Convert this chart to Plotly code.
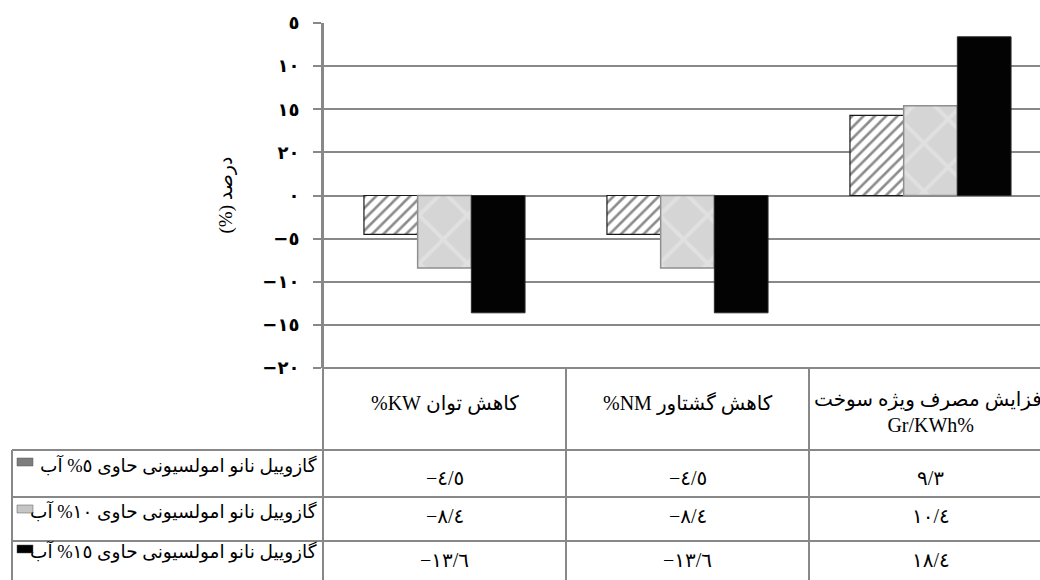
import plotly.graph_objects as go

# ---- data -------------------------------------------------------------
categories = [
    ["کاهش توان KW%"],
    ["کاهش گشتاور NM%"],
    ["افزایش مصرف ویژه سوخت", "Gr/KWh%"],
]
series_names = [
    "گازوییل نانو امولسیونی حاوی ٥% آب",
    "گازوییل نانو امولسیونی حاوی ١٠% آب",
    "گازوییل نانو امولسیونی حاوی ١٥% آب",
]
water_5 = [-4.5, -4.5, 9.3]
water_10 = [-8.4, -8.4, 10.4]
water_15 = [-13.6, -13.6, 18.4]

y_tickvals = [20, 15, 10, 5, 0, -5, -10, -15, -20]
y_ticktext = ["٥", "١٠", "١٥", "٢٠", "٠", "−٥", "−١٠", "−١٥", "−٢٠"]
y_title = "درصد (%)"

# ---- helpers ----------------------------------------------------------
W, H = 1040, 580
ML, MR, MT, MB = 323, 0, 23, 212
PW, PH = W - ML - MR, H - MT - MB
CAT_PX = 243  # width of one category column in pixels

AR_DIGITS = str.maketrans("0123456789", "٠١٢٣٤٥٦٧٨٩")


def rtl(s):
    """Wrap text containing Arabic-script letters in a right-to-left embedding."""
    if any("\u0600" <= ch <= "\u06ff" and not ("\u0660" <= ch <= "\u0669") for ch in s):
        return "\u202b" + s + "\u202c"
    return s


def ltr(s):
    return "\u200e\u202a" + s + "\u202c"


def fa_num(v):
    s = f"{abs(v):.1f}".translate(AR_DIGITS).replace(".", "/")
    return ltr(("−" + s) if v < 0 else s)


def px_x(px):
    return (px - ML) / PW


def px_y(py):
    return (H - MB - py) / PH


FONT = "Liberation Serif, DejaVu Sans, serif"
GRID = "#888888"

x_idx = list(range(len(categories)))
series = [water_5, water_10, water_15]

fig = go.Figure()

# hatched bars
fig.add_trace(go.Bar(
    x=x_idx, y=water_5, name=series_names[0],
    marker=dict(
        color="white",
        line=dict(color="#1a1a1a", width=1.2),
        pattern=dict(shape="/", fgcolor="#1a1a1a", bgcolor="white", size=8, solidity=0.33),
    ),
))
# light grey textured bars
fig.add_trace(go.Bar(
    x=x_idx, y=water_10, name=series_names[1],
    marker=dict(
        color="#d8d8d8",
        line=dict(color="#8f8f8f", width=1.5),
        pattern=dict(shape="x", fgcolor="#ececec", bgcolor="#d5d5d5", size=34, solidity=0.22),
    ),
))
# black bars
fig.add_trace(go.Bar(
    x=x_idx, y=water_15, name=series_names[2],
    marker=dict(color="#030303", line=dict(color="#2a2a2a", width=1)),
))

shapes = []
line_style = dict(color=GRID, width=2)

# table frame: header top, row separators, verticals
shapes.append(dict(type="line", xref="paper", yref="paper", x0=0, x1=1.02,
                   y0=px_y(368), y1=px_y(368), line=line_style))
for py in (450, 497, 541):
    shapes.append(dict(type="line", xref="paper", yref="paper", x0=px_x(12), x1=1.02,
                       y0=px_y(py), y1=px_y(py), line=line_style))
shapes.append(dict(type="line", xref="paper", yref="paper", x0=0, x1=0,
                   y0=1, y1=px_y(590), line=line_style))
shapes.append(dict(type="line", xref="paper", yref="paper", x0=px_x(12), x1=px_x(12),
                   y0=px_y(450), y1=px_y(590), line=line_style))
for i in range(len(categories) - 1):
    shapes.append(dict(type="line", xref="x", yref="paper", x0=i + 0.5, x1=i + 0.5,
                       y0=px_y(368), y1=px_y(590), line=line_style))

# legend keys inside the table rows
key_colors = ["#7d7d7d", "#c6c6c6", "#000000"]
key_rows = [458, 505, 545]
for col, top in zip(key_colors, key_rows):
    shapes.append(dict(type="rect", xref="paper", yref="paper",
                       x0=px_x(17), x1=px_x(33), y0=px_y(top), y1=px_y(top + 8),
                       fillcolor=col, line=dict(color="#555555", width=0.5)))

annotations = []
# header cells
for i, lines in enumerate(categories):
    center = 403 if len(lines) == 1 else 412
    annotations.append(dict(
        x=i, xref="x", y=px_y(center), yref="paper",
        text="<br>".join(rtl(s) for s in lines),
        showarrow=False, xanchor="center", yanchor="middle",
        font=dict(family=FONT, size=20, color="black"),
    ))

# row labels and values
label_rows = [465, 511, 551]
value_rows = [478, 516, 560]
for name, vals, ly, vy in zip(series_names, series, label_rows, value_rows):
    annotations.append(dict(
        x=px_x(319), xref="paper", y=px_y(ly), yref="paper",
        text=rtl(name), showarrow=False, xanchor="right", yanchor="middle",
        font=dict(family=FONT, size=18.5, color="black"),
    ))
    for i, v in enumerate(vals):
        annotations.append(dict(
            x=i, xref="x", y=px_y(vy), yref="paper",
            text=fa_num(v), showarrow=False, xanchor="center", yanchor="middle",
            font=dict(family=FONT, size=20, color="black"),
        ))

# y-axis title
annotations.append(dict(
    x=px_x(225), xref="paper", y=0.5, yref="paper",
    text=rtl(y_title), textangle=-90, showarrow=False,
    xanchor="center", yanchor="middle",
    font=dict(family=FONT, size=19, color="black"),
))

fig.update_layout(
    width=W, height=H,
    margin=dict(l=ML, r=MR, t=MT, b=MB, autoexpand=False),
    paper_bgcolor="white", plot_bgcolor="white",
    barmode="group", bargap=0.337, bargroupgap=0.0,
    showlegend=False,
    shapes=shapes, annotations=annotations,
    xaxis=dict(range=[-0.5, -0.5 + PW / CAT_PX], showticklabels=False, showgrid=False,
               zeroline=False, showline=False, ticks=""),
    yaxis=dict(range=[-20, 20], tickvals=y_tickvals, ticktext=y_ticktext,
               showgrid=True, gridcolor=GRID, gridwidth=2,
               zeroline=True, zerolinecolor=GRID, zerolinewidth=2,
               showline=True, linecolor=GRID, linewidth=2,
               ticks="outside", ticklen=8, tickwidth=2, tickcolor=GRID,
               ticklabelstandoff=10,
               tickfont=dict(family="DejaVu Sans", size=18, color="black", weight="bold")),
)

fig.write_html("out.html")
